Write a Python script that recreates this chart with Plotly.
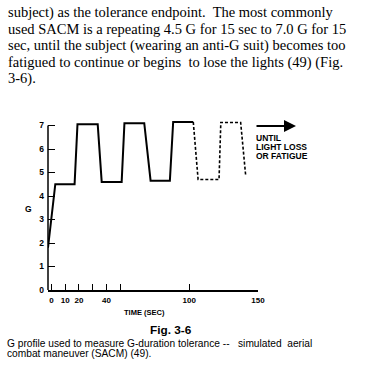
import plotly.graph_objects as go

# ---- data ----
solid_t = [-2.5, 2.8, 16.8, 18.9, 33.6, 36.5, 51, 53, 67.4, 72, 86, 88.4, 103]
solid_g = [1.8, 4.5, 4.5, 7.05, 7.05, 4.6, 4.6, 7.1, 7.1, 4.65, 4.65, 7.15, 7.15]
dash_t = [103, 106.5, 121.7, 123, 137.4, 141]
dash_g = [7.15, 4.7, 4.7, 7.13, 7.13, 4.9]

x_tickvals = [0, 10, 20, 30, 40, 50, 100, 150]
x_ticktext = ["0", "10", "20", "", "40", "", "100", "150"]
y_tickvals = [0, 1, 2, 3, 4, 5, 6, 7]
y_ticktext = ["0", "1", "2", "3", "4", "5", "6", "7"]

paragraph = [
    "subject) as the tolerance endpoint.  The most commonly",
    "used SACM is a repeating 4.5 G for 15 sec to 7.0 G for 15",
    "sec, until the subject (wearing an anti-G suit) becomes too",
    "fatigued to continue or begins  to lose the lights (49) (Fig.",
    "3-6).",
]
caption = [
    "G profile used to measure G-duration tolerance --\u00a0\u00a0 simulated\u00a0 aerial",
    "combat maneuver (SACM) (49).",
]
fig_label = "Fig. 3-6"
until_lines = ["UNTIL", "LIGHT LOSS", "OR FATIGUE"]

# ---- layout geometry ----
W, H = 385, 376
L, R, T, B = 48, 127, 114, 86
PW, PH = W - L - R, H - T - B


def px(x):
    return (x - L) / PW


def py(y):
    return (H - B - y) / PH


fig = go.Figure()
fig.add_trace(go.Scatter(x=solid_t, y=solid_g, mode="lines",
                         line=dict(color="black", width=2), hoverinfo="skip"))
fig.add_trace(go.Scatter(x=dash_t, y=dash_g, mode="lines",
                         line=dict(color="black", width=1.6, dash="3px,2px"),
                         hoverinfo="skip"))

ann = []
# paragraph
for i, line in enumerate(paragraph):
    ann.append(dict(text=line, xref="paper", yref="paper", x=px(6), y=py(13 + i * 16.4),
                    xanchor="left", yanchor="middle", showarrow=False,
                    font=dict(family="Liberation Serif", size=14.5, color="black")))
# caption
for i, line in enumerate(caption):
    ann.append(dict(text=line, xref="paper", yref="paper", x=px(6), y=py(343 + i * 10.6),
                    xanchor="left", yanchor="middle", showarrow=False, borderpad=0,
                    font=dict(family="Liberation Sans", size=10.2, color="black")))
ann.append(dict(text=fig_label, xref="paper", yref="paper", x=px(171), y=py(329.5),
                xanchor="center", yanchor="middle", showarrow=False, borderpad=0,
                font=dict(family="Liberation Sans", size=11.8, color="black", weight="bold")))
ann.append(dict(text="TIME (SEC)", xref="paper", yref="paper", x=px(144), y=py(312),
                xanchor="center", yanchor="middle", showarrow=False,
                font=dict(family="Liberation Sans", size=7.5, color="black", weight="bold")))
ann.append(dict(text="G", xref="paper", yref="paper", x=px(28), y=py(209),
                xanchor="center", yanchor="middle", showarrow=False,
                font=dict(family="Liberation Sans", size=8.5, color="black", weight="bold")))
for i, line in enumerate(until_lines):
    ann.append(dict(text=line, xref="paper", yref="paper", x=px(254), y=py(138 + i * 9),
                    xanchor="left", yanchor="middle", showarrow=False,
                    font=dict(family="Liberation Sans", size=8.5, color="black", weight="bold")))
# arrow
ann.append(dict(x=px(296), y=py(126), ax=-41, ay=0, xref="paper", yref="paper",
                axref="pixel", ayref="pixel", text="", showarrow=True,
                arrowhead=2, arrowsize=1.2, arrowwidth=2, arrowcolor="black"))

fig.update_layout(
    width=W, height=H, margin=dict(l=L, r=R, t=T, b=B),
    paper_bgcolor="white", plot_bgcolor="white", showlegend=False,
    annotations=ann,
    shapes=[dict(type="line", xref="paper", yref="y", x0=0, x1=0, y0=0, y1=7,
                 line=dict(color="black", width=1.5))],
    xaxis=dict(range=[-2.5, 150], showgrid=False, zeroline=False, showline=True,
               linecolor="black", linewidth=1.5, ticks="inside", ticklen=6, tickwidth=1.3,
               tickcolor="black", tickvals=x_tickvals, ticktext=x_ticktext,
               ticklabelstandoff=2,
               tickfont=dict(family="Liberation Sans", size=8, color="black", weight="bold")),
    yaxis=dict(range=[0, PH / 23.5], showgrid=False, zeroline=False, showline=False,
               ticks="inside", ticklen=7, tickwidth=1.3, tickcolor="black",
               tickvals=y_tickvals, ticktext=y_ticktext, ticklabelstandoff=3,
               tickfont=dict(family="Liberation Sans", size=8.5, color="black", weight="bold")),
)

fig.write_html("out.html", config={"displayModeBar": False},
               post_script="document.body.style.margin='0';")
